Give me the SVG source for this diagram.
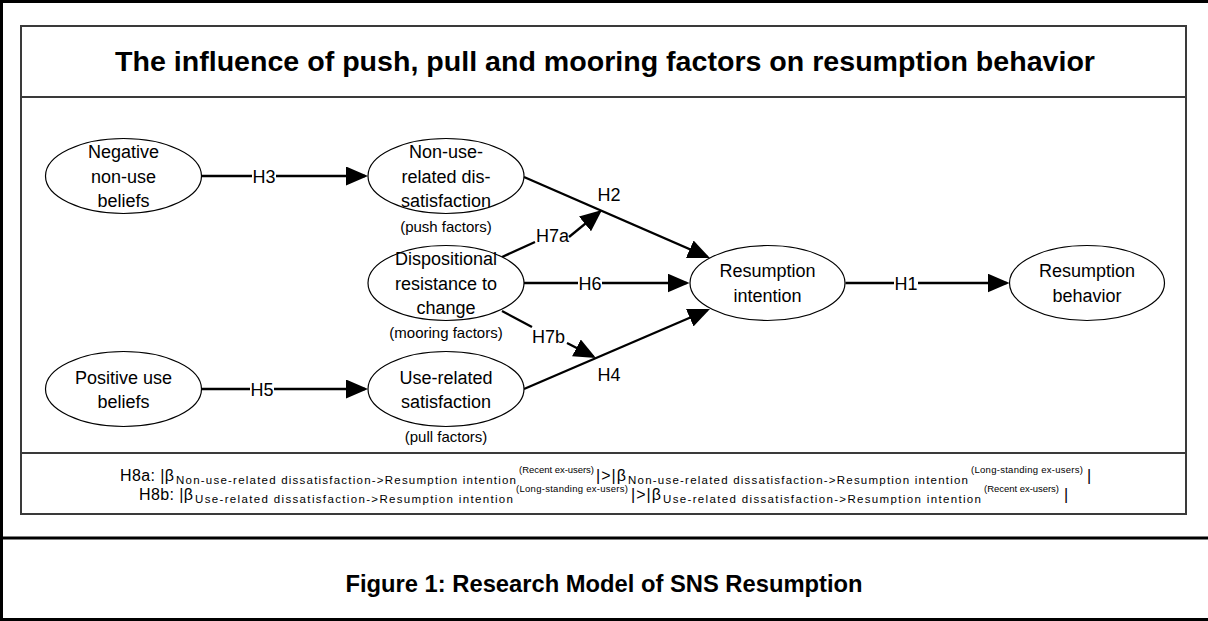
<svg xmlns="http://www.w3.org/2000/svg" width="1208" height="621" viewBox="0 0 1208 621">
  <style>
    .frame { fill: none; stroke: #000; stroke-width: 3; }
    .panel { fill: none; stroke: #3a3a3a; stroke-width: 2; }
    .node ellipse { fill: #fff; stroke: #000; stroke-width: 1.2; }
    .lbl { font-family: "Liberation Sans", Arial, sans-serif; font-size: 18px; fill: #000; text-anchor: middle; }
    .note { font-family: "Liberation Sans", Arial, sans-serif; font-size: 15px; fill: #000; text-anchor: middle; }
    .edge { fill: none; stroke: #000; stroke-width: 2.3; }
    .hyp { font-family: "Liberation Sans", Arial, sans-serif; font-size: 18px; fill: #000; text-anchor: middle; }
    .title { font-family: "Liberation Sans", Arial, sans-serif; font-weight: bold; fill: #000; text-anchor: middle; }
    .eq { font-family: "Liberation Sans", Arial, sans-serif; fill: #000; }
    .m { font-size: 16px; }
    .sub { font-size: 11.5px; }
    .sup { font-size: 9.5px; }
  </style>
  <defs>
    <marker id="arrow" markerUnits="userSpaceOnUse" viewBox="0 0 22 19" markerWidth="22" markerHeight="19" refX="19" refY="9.5" orient="auto">
      <path d="M0,0 L22,9.5 L0,19 Z" fill="#000"/>
    </marker>
  </defs>

  <rect width="1208" height="621" fill="#fff"/>

  <!-- outer figure frame and caption divider -->
  <g id="frame">
    <path class="frame" d="M1210,1.5 H1.5 V619.5 H1210"/>
    <line class="frame" x1="0" y1="538" x2="1208" y2="538"/>
  </g>

  <!-- model panel: header, diagram area, hypothesis strip -->
  <g id="panel">
    <rect class="panel" x="21" y="26" width="1165" height="488"/>
    <line class="panel" x1="21" y1="97" x2="1186" y2="97"/>
    <line class="panel" x1="21" y1="453" x2="1186" y2="453"/>
  </g>

  <text id="title" class="title" x="605" y="71" font-size="27" textLength="980" lengthAdjust="spacingAndGlyphs">The influence of push, pull and mooring factors on resumption behavior</text>

  <!-- connectors -->
  <g id="connectors">
    <!-- H3 -->
    <line class="edge" x1="201.5" y1="176" x2="252" y2="176"/>
    <line class="edge" x1="276" y1="176" x2="365" y2="176" marker-end="url(#arrow)"/>
    <text class="hyp" x="264" y="182.5">H3</text>
    <!-- H5 -->
    <line class="edge" x1="201.5" y1="389" x2="250" y2="389"/>
    <line class="edge" x1="274" y1="389" x2="365" y2="389" marker-end="url(#arrow)"/>
    <text class="hyp" x="262" y="395.5">H5</text>
    <!-- H6 -->
    <line class="edge" x1="524" y1="283" x2="578" y2="283"/>
    <line class="edge" x1="602" y1="283" x2="686.5" y2="283" marker-end="url(#arrow)"/>
    <text class="hyp" x="590" y="289.5">H6</text>
    <!-- H1 -->
    <line class="edge" x1="845.5" y1="283" x2="894" y2="283"/>
    <line class="edge" x1="918" y1="283" x2="1006.5" y2="283" marker-end="url(#arrow)"/>
    <text class="hyp" x="906" y="289.5">H1</text>
    <!-- H2 -->
    <line class="edge" x1="524" y1="177" x2="707.2" y2="256.8" marker-end="url(#arrow)"/>
    <text class="hyp" x="609" y="201">H2</text>
    <!-- H4 -->
    <line class="edge" x1="524" y1="389" x2="707.2" y2="310.2" marker-end="url(#arrow)"/>
    <text class="hyp" x="609" y="381">H4</text>
    <!-- H7a: moderation onto H2 -->
    <line class="edge" x1="502" y1="257" x2="535" y2="242"/>
    <line class="edge" x1="569" y1="237" x2="599.7" y2="211.9" marker-end="url(#arrow)"/>
    <text class="hyp" x="552.5" y="241.5">H7a</text>
    <!-- H7b: moderation onto H4 -->
    <line class="edge" x1="502" y1="311" x2="532" y2="327"/>
    <line class="edge" x1="567" y1="343" x2="593.3" y2="356.6" marker-end="url(#arrow)"/>
    <text class="hyp" x="548.5" y="343">H7b</text>
  </g>

  <!-- constructs -->
  <g id="negative-non-use-beliefs" class="node">
    <ellipse cx="123.5" cy="176" rx="78" ry="37.5"/>
    <text class="lbl" x="123.5" y="158">Negative</text>
    <text class="lbl" x="123.5" y="182.5">non-use</text>
    <text class="lbl" x="123.5" y="207">beliefs</text>
  </g>

  <g id="non-use-related-dissatisfaction" class="node">
    <ellipse cx="446" cy="176" rx="78" ry="37.5"/>
    <text class="lbl" x="446" y="158">Non-use-</text>
    <text class="lbl" x="446" y="182.5">related dis-</text>
    <text class="lbl" x="446" y="207">satisfaction</text>
    <text class="note" x="446" y="232">(push factors)</text>
  </g>

  <g id="dispositional-resistance" class="node">
    <ellipse cx="446" cy="283" rx="78" ry="37.5"/>
    <text class="lbl" x="446" y="265">Dispositional</text>
    <text class="lbl" x="446" y="289.5">resistance to</text>
    <text class="lbl" x="446" y="314">change</text>
    <text class="note" x="446" y="338">(mooring factors)</text>
  </g>

  <g id="use-related-satisfaction" class="node">
    <ellipse cx="446" cy="389" rx="78" ry="37.5"/>
    <text class="lbl" x="446" y="383.5">Use-related</text>
    <text class="lbl" x="446" y="408">satisfaction</text>
    <text class="note" x="446" y="442">(pull factors)</text>
  </g>

  <g id="positive-use-beliefs" class="node">
    <ellipse cx="123.5" cy="389" rx="78" ry="37.5"/>
    <text class="lbl" x="123.5" y="383.5">Positive use</text>
    <text class="lbl" x="123.5" y="408">beliefs</text>
  </g>

  <g id="resumption-intention" class="node">
    <ellipse cx="767.5" cy="283" rx="77.5" ry="37.5"/>
    <text class="lbl" x="767.5" y="277">Resumption</text>
    <text class="lbl" x="767.5" y="301.5">intention</text>
  </g>

  <g id="resumption-behavior" class="node">
    <ellipse cx="1087" cy="283" rx="77.5" ry="37.5"/>
    <text class="lbl" x="1087" y="277">Resumption</text>
    <text class="lbl" x="1087" y="301.5">behavior</text>
  </g>

  <!-- group-difference hypotheses -->
  <g id="h8">
    <text class="eq m" x="120" y="481" textLength="54">H8a: |β</text>
    <text class="eq sub" x="176" y="484" textLength="340">Non-use-related dissatisfaction-&gt;Resumption intention</text>
    <text class="eq sup" x="519" y="473" textLength="75">(Recent ex-users)</text>
    <text class="eq m" x="596" y="481" textLength="30">|&gt;|β</text>
    <text class="eq sub" x="628" y="484" textLength="340">Non-use-related dissatisfaction-&gt;Resumption intention</text>
    <text class="eq sup" x="971" y="473" textLength="112">(Long-standing ex-users)</text>
    <text class="eq m" x="1087" y="481">|</text>

    <text class="eq m" x="139" y="500" textLength="54">H8b: |β</text>
    <text class="eq sub" x="195" y="503" textLength="318">Use-related dissatisfaction-&gt;Resumption intention</text>
    <text class="eq sup" x="516" y="492" textLength="112">(Long-standing ex-users)</text>
    <text class="eq m" x="631" y="500" textLength="30">|&gt;|β</text>
    <text class="eq sub" x="663" y="503" textLength="318">Use-related dissatisfaction-&gt;Resumption intention</text>
    <text class="eq sup" x="984" y="492" textLength="75">(Recent ex-users)</text>
    <text class="eq m" x="1064" y="500">|</text>
  </g>

  <text id="caption" class="title" x="604" y="592" font-size="24" textLength="517" lengthAdjust="spacingAndGlyphs">Figure 1: Research Model of SNS Resumption</text>
</svg>
